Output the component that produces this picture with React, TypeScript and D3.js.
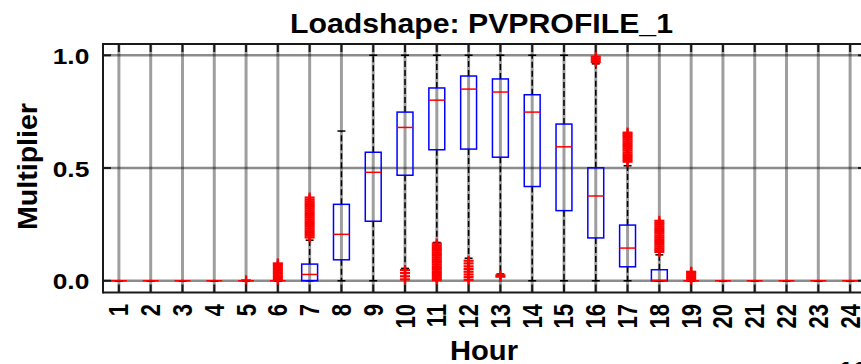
import React from "react";
import * as d3 from "d3";

// Hourly PV loadshape statistics (per-hour box summaries)
const hours = [1, 2, 3, 4, 5, 6, 7, 8, 9, 10, 11, 12, 13, 14, 15, 16, 17, 18, 19, 20, 21, 22, 23, 24];
const q1 = [0, 0, 0, 0, 0, 0, 0, 0.093, 0.264, 0.468, 0.581, 0.584, 0.548, 0.418, 0.311, 0.19, 0.062, 0, 0, 0, 0, 0, 0, 0];
const medians = [0, 0, 0, 0, 0, 0, 0.028, 0.206, 0.481, 0.68, 0.801, 0.85, 0.837, 0.748, 0.594, 0.376, 0.145, 0.002, 0, 0, 0, 0, 0, 0];
const q3 = [0, 0, 0, 0, 0, 0, 0.074, 0.339, 0.57, 0.748, 0.855, 0.908, 0.895, 0.825, 0.695, 0.501, 0.247, 0.049, 0, 0, 0, 0, 0, 0];
const whiskerLow = [0, 0, 0, 0, 0, 0, 0, 0, 0, 0.055, 0.17, 0.1, 0.03, 0, 0, 0, 0, 0, 0, 0, 0, 0, 0, 0];
const whiskerHigh = [0, 0, 0, 0, 0, 0, 0.18, 0.664, 1.0, 1.0, 1.0, 1.0, 1.0, 1.0, 1.0, 0.962, 0.51, 0.115, 0, 0, 0, 0, 0, 0];
const outliers: number[][] = [
  [], [], [], [],
  [0.002],
  [0.003, 0.01, 0.017, 0.024, 0.031, 0.038, 0.045, 0.052, 0.059, 0.066, 0.072, 0.077],
  [0.192, 0.2, 0.208, 0.216, 0.224, 0.232, 0.24, 0.248, 0.256, 0.264, 0.272, 0.28, 0.288, 0.296, 0.304, 0.312, 0.32, 0.328, 0.336, 0.344, 0.352, 0.36, 0.369],
  [],
  [],
  [0.006, 0.02, 0.034, 0.048],
  [0.003, 0.011, 0.018, 0.026, 0.034, 0.041, 0.049, 0.057, 0.064, 0.072, 0.08, 0.087, 0.095, 0.103, 0.111, 0.118, 0.126, 0.134, 0.141, 0.149, 0.157, 0.165],
  [0.004, 0.016, 0.028, 0.04, 0.052, 0.064, 0.077, 0.089],
  [0.018, 0.024],
  [],
  [],
  [0.97, 0.978, 0.986, 0.994],
  [0.528, 0.536, 0.545, 0.553, 0.561, 0.569, 0.578, 0.586, 0.594, 0.602, 0.61, 0.618, 0.626, 0.634, 0.642, 0.65, 0.657],
  [0.128, 0.136, 0.144, 0.152, 0.16, 0.168, 0.176, 0.184, 0.192, 0.2, 0.209, 0.217, 0.225, 0.233, 0.241, 0.249, 0.257, 0.266],
  [0.003, 0.01, 0.017, 0.024, 0.031, 0.038, 0.04],
  [], [], [], [], [],
];
const yTicks = [0, 0.5, 1.0];
const yTickLabels = ["0.0", "0.5", "1.0"];
const title = "Loadshape: PVPROFILE_1";
const xLabel = "Hour";
const yLabel = "Multiplier";

const W = 861;
const H = 364;
const plot = { left: 103, right: 866, top: 44, bottom: 292.5 };
const FONT = "'Liberation Sans', Arial, Helvetica, sans-serif";

export default function App() {
  const x = d3.scaleLinear().domain([0.5, 24.5]).range([plot.left, plot.right]);
  const y = d3.scaleLinear().domain([-0.052, 1.05]).range([plot.bottom, plot.top]);
  const unit = x(1) - x(0);
  const boxHalf = unit * 0.25;
  const capHalf = unit * 0.125;
  const mk = 5;

  return (
    <svg
      width={W}
      height={H}
      style={{ position: "absolute", left: 0, top: 0, background: "#fff" }}
      fontFamily={FONT}
    >
      <rect x={0} y={0} width={W} height={H} fill="#fff" />

      {/* grid */}
      <g stroke="#000">
        {hours.map((h) => (
          <line key={"gx" + h} x1={x(h)} x2={x(h)} y1={plot.top} y2={plot.bottom} strokeOpacity={0.38} strokeWidth={3} />
        ))}
        {yTicks.map((t) => (
          <line key={"gy" + t} x1={plot.left} x2={plot.right} y1={y(t)} y2={y(t)} strokeOpacity={0.45} strokeWidth={2.5} />
        ))}
      </g>

      {/* whiskers */}
      <g stroke="#000" strokeWidth={1.5} fill="none">
        {hours.map((h, i) => (
          <g key={"w" + h}>
            {whiskerHigh[i] > q3[i] && (
              <line x1={x(h)} x2={x(h)} y1={y(q3[i])} y2={y(whiskerHigh[i])} strokeDasharray="6,3" />
            )}
            {whiskerLow[i] < q1[i] && (
              <line x1={x(h)} x2={x(h)} y1={y(q1[i])} y2={y(whiskerLow[i])} strokeDasharray="6,3" />
            )}
            <line x1={x(h) - capHalf} x2={x(h) + capHalf} y1={y(whiskerHigh[i])} y2={y(whiskerHigh[i])} />
            <line x1={x(h) - capHalf} x2={x(h) + capHalf} y1={y(whiskerLow[i])} y2={y(whiskerLow[i])} />
          </g>
        ))}
      </g>

      {/* boxes */}
      <g stroke="#0000ff" strokeWidth={1.5} fill="none">
        {hours.map((h, i) => (
          <rect key={"b" + h} x={x(h) - boxHalf} y={y(q3[i])} width={boxHalf * 2} height={y(q1[i]) - y(q3[i])} />
        ))}
      </g>

      {/* medians */}
      <g stroke="#ff0000" strokeWidth={1.5}>
        {hours.map((h, i) => (
          <line key={"m" + h} x1={x(h) - boxHalf} x2={x(h) + boxHalf} y1={y(medians[i])} y2={y(medians[i])} />
        ))}
      </g>

      {/* outliers as + markers */}
      <g stroke="#ff0000" strokeWidth={2.2}>
        {hours.map((h, i) =>
          outliers[i].map((v, j) => (
            <g key={"o" + h + "-" + j}>
              <line x1={x(h) - mk} x2={x(h) + mk} y1={y(v)} y2={y(v)} />
              <line x1={x(h)} x2={x(h)} y1={y(v) - mk} y2={y(v) + mk} />
            </g>
          ))
        )}
      </g>

      {/* axes frame and ticks */}
      <g stroke="#1a1a1a" strokeWidth={2} fill="none">
        <line x1={plot.left} x2={plot.right} y1={plot.top} y2={plot.top} />
        <line x1={plot.left} x2={plot.right} y1={plot.bottom} y2={plot.bottom} />
        <line x1={plot.left} x2={plot.left} y1={plot.top - 1} y2={plot.bottom + 1} />
        <line x1={plot.right} x2={plot.right} y1={plot.top - 1} y2={plot.bottom + 1} />
        {hours.map((h) => (
          <g key={"t" + h}>
            <line x1={x(h)} x2={x(h)} y1={plot.top} y2={plot.top + 8} />
            <line x1={x(h)} x2={x(h)} y1={plot.bottom} y2={plot.bottom - 8} />
          </g>
        ))}
        {yTicks.map((t) => (
          <g key={"yt" + t}>
            <line x1={plot.left} x2={plot.left + 8} y1={y(t)} y2={y(t)} />
            <line x1={plot.right} x2={plot.right - 8} y1={y(t)} y2={y(t)} />
          </g>
        ))}
      </g>

      {/* tick labels */}
      <g fontWeight="bold" fontSize={22} fill="#000">
        {yTicks.map((t, i) => (
          <text key={"yl" + t} x={89.3} y={y(t) + 8.5} textAnchor="end" textLength={36.6} lengthAdjust="spacingAndGlyphs">
            {yTickLabels[i]}
          </text>
        ))}
        {hours.map((h) => (
          <text
            key={"xl" + h}
            transform={`translate(${x(h) + 9.5},304) rotate(-90) scale(1,1.25)`}
            textAnchor="end"
          >
            {String(h)}
          </text>
        ))}
      </g>

      {/* titles */}
      <g fontWeight="bold" fontSize={28} fill="#000">
        <text x={290} y={33.3} textLength={383} lengthAdjust="spacingAndGlyphs">
          {title}
        </text>
        <text x={450} y={360} textLength={68} lengthAdjust="spacingAndGlyphs">
          {xLabel}
        </text>
        <text
          transform="translate(37,166.5) rotate(-90)"
          textAnchor="middle"
          textLength={127}
          lengthAdjust="spacingAndGlyphs"
        >
          {yLabel}
        </text>
        <text x={838} y={381}>11</text>
      </g>
    </svg>
  );
}
